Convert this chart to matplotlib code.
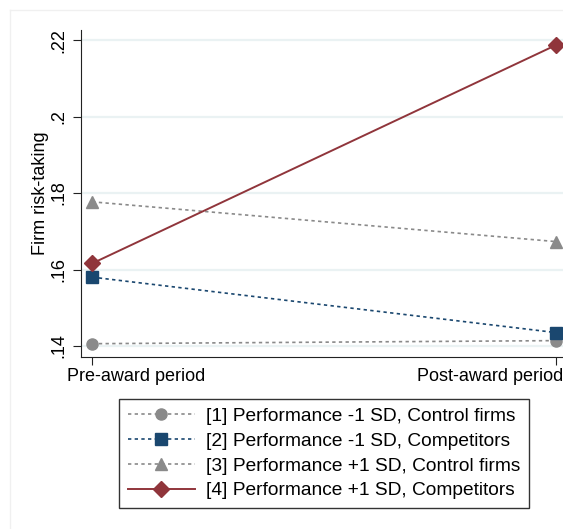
import matplotlib
matplotlib.use("Agg")
import matplotlib.pyplot as plt
from matplotlib.lines import Line2D
from matplotlib.transforms import ScaledTranslation

plt.rcParams['font.family'] = ['Liberation Sans', 'DejaVu Sans']

periods = ["Pre-award period", "Post-award period"]
labels = ["[1] Performance -1 SD, Control firms",
          "[2] Performance -1 SD, Competitors",
          "[3] Performance +1 SD, Control firms",
          "[4] Performance +1 SD, Competitors"]
perf_low_control = [0.1406, 0.1414]
perf_low_comp = [0.1580, 0.1435]
perf_high_control = [0.1777, 0.1673]
perf_high_comp = [0.1616, 0.2187]
yticks = [0.14, 0.16, 0.18, 0.20, 0.22]
ytick_labels = [".14", ".16", ".18", ".2", ".22"]

gray = "#8a8a8a"
navy = "#1a476f"
maroon = "#90353b"

fig = plt.figure(figsize=(5.63, 5.29), dpi=100)
ax = fig.add_axes([0.144, 0.325, 0.856, 0.618])

x = [0, 1]
ax.plot(x, perf_low_control, color=gray, ls=(0, (2, 2)), lw=1.2, marker="o", ms=8, label=labels[0])
ax.plot(x, perf_low_comp, color=navy, ls=(0, (2, 2)), lw=1.2, marker="s", ms=8, label=labels[1])
ax.plot(x, perf_high_control, color=gray, ls=(0, (2, 2)), lw=1.2, marker="^", ms=9, label=labels[2])
ax.plot(x, perf_high_comp, color=maroon, ls="-", lw=1.4, marker="D", ms=8, label=labels[3])

ax.set_xlim(-0.024, 1.015)
ax.set_ylim(0.1371, 0.2226)
ax.set_xticks(x)
ax.set_xticklabels([])
# Stata shifts the period labels to keep them inside the plot region
shifts = [(-0.25, "left"), (0.07, "right")]
for xi, name, (dx, ha) in zip(x, periods, shifts):
    tr = ax.get_xaxis_transform() + ScaledTranslation(dx, -0.11, fig.dpi_scale_trans)
    ax.text(xi, 0, name, transform=tr, ha=ha, va="top", fontsize=13)
ax.set_yticks(yticks)
ax.set_yticklabels(ytick_labels, fontsize=13, rotation=90, va="center")
ax.set_ylabel("Firm risk-taking", fontsize=13)
ax.yaxis.set_label_coords(-0.066, 0.5)
ax.grid(axis="y", color="#eaf2f3", lw=1.6)
ax.set_axisbelow(True)
for s in ["top", "right"]:
    ax.spines[s].set_visible(False)
ax.spines["left"].set_color("#222222")
ax.spines["bottom"].set_color("#222222")
ax.tick_params(length=6, color="#222222", pad=4)

leg = fig.legend(loc="center", bbox_to_anchor=(0.5755, 0.1427), fontsize=13.8,
                 handlelength=3.5, handletextpad=0.6, fancybox=False, edgecolor="#333333",
                 framealpha=1, borderpad=0.45, labelspacing=0.38)
leg.get_frame().set_linewidth(1.0)

fig.add_artist(Line2D([9.5 / 563, 9.5 / 563], [0, 1 - 10 / 529], color="#f0f0f0", lw=1))
fig.add_artist(Line2D([9.5 / 563, 1], [1 - 10 / 529, 1 - 10 / 529], color="#f0f0f0", lw=1))

fig.savefig("out.png", dpi=100)
